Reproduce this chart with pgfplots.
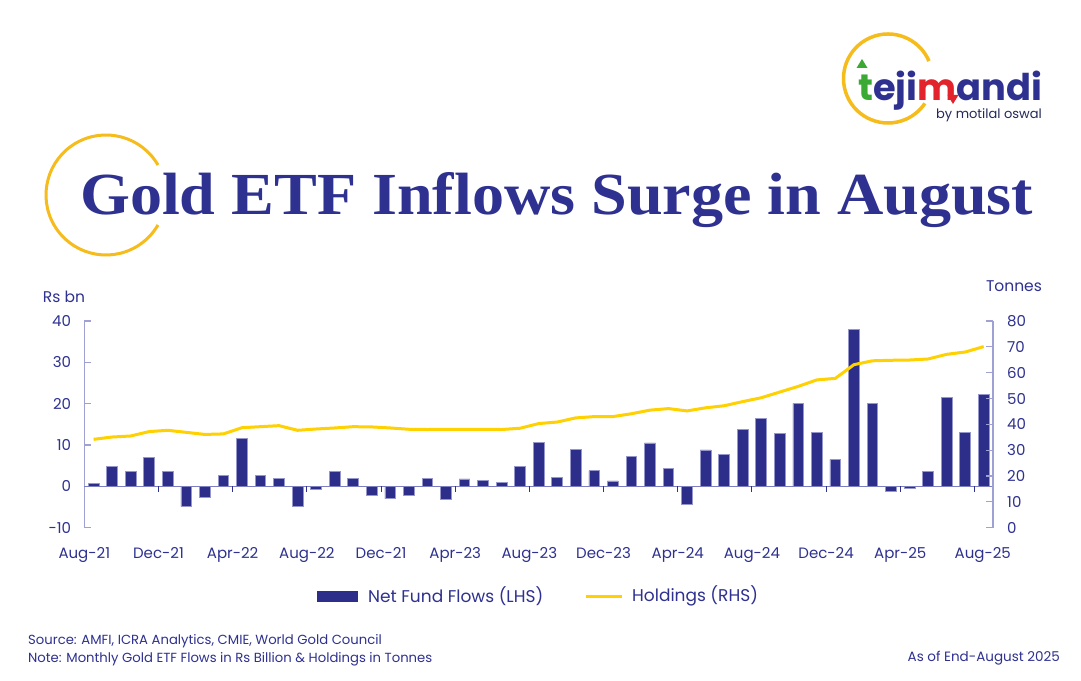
\documentclass[border=0pt]{standalone}
\usepackage{fontspec}
\setmainfont{Poppins}
\newfontfamily\titlefont{Liberation Serif}
\usepackage{graphicx}
\usepackage{pgfplots}
\pgfplotsset{compat=1.18}
\usepackage{pgfplotstable}
\definecolor{navy}{HTML}{2E3190}
\definecolor{barnavy}{HTML}{2C2E8A}
\definecolor{barline}{HTML}{9496CC}
\definecolor{axline}{HTML}{9FA1D2}
\definecolor{zeroline}{HTML}{7C7EC0}
\definecolor{lineyellow}{HTML}{FFD100}
\definecolor{gold}{HTML}{F5BC1C}
\definecolor{tgreen}{HTML}{3BAA35}
\definecolor{tred}{HTML}{E3232B}
\definecolor{darknavy}{HTML}{25285A}

\pgfplotstableread{
x y
0 0.8
1 4.9
2 3.6
3 7.1
4 3.5
5 -4.9
6 -2.7
7 2.6
8 11.6
9 2.6
10 1.9
11 -4.9
12 -0.7
13 3.6
14 1.9
15 -2.3
16 -3.0
17 -2.2
18 1.9
19 -3.1
20 1.8
21 1.5
22 1.05
23 4.8
24 10.7
25 2.2
26 9.0
27 3.8
28 1.3
29 7.2
30 10.5
31 4.3
32 -4.3
33 8.8
34 7.8
35 13.75
36 16.4
37 12.8
38 20.1
39 13.1
40 6.55
41 38.0
42 20.1
43 -1.2
44 -0.6
45 3.6
46 21.4
47 13.1
48 22.2
}\flows

\pgfplotstableread{
x y
0 34.2
1 35.1
2 35.5
3 37.2
4 37.7
5 36.9
6 36.1
7 36.3
8 38.7
9 39.1
10 39.5
11 37.7
12 38.2
13 38.6
14 39.1
15 39.0
16 38.6
17 38.1
18 38.0
19 38.1
20 38.1
21 38.1
22 38.0
23 38.5
24 40.3
25 40.9
26 42.5
27 43.0
28 43.0
29 44.1
30 45.5
31 46.1
32 45.2
33 46.4
34 47.2
35 48.8
36 50.3
37 52.5
38 54.7
39 57.2
40 57.8
41 63.1
42 64.6
43 64.8
44 64.9
45 65.3
46 67.1
47 68.0
48 70.1
}\holdings

\begin{document}
\begin{tikzpicture}
\path[fill=white] (0pt,0pt) rectangle (1081pt,680pt);

% decorative circles
\draw[gold, line width=3pt] (106pt,485pt) ++(30:60pt) arc[start angle=30, end angle=330, radius=60pt];
\draw[gold, line width=3.5pt] (888pt,601.5pt) ++(23:44.5pt) arc[start angle=23, end angle=326, radius=44.5pt];

% logo
\node[anchor=base west, inner sep=0pt, text=navy] at (858pt,579pt)
  {\raisebox{0pt}[\height][0pt]{\resizebox{184pt}{!}{\bfseries\fontsize{40}{40}\selectfont\textcolor{tgreen}{t}eji\textcolor{tred}{m}andi}}};
\fill[tgreen] (862pt,621pt) -- (856.5pt,612pt) -- (867.5pt,612pt) -- cycle;
\fill[tred] (953pt,576pt) -- (947.5pt,585pt) -- (958.5pt,585pt) -- cycle;
\node[anchor=base east, inner sep=0pt, text=darknavy] at (1042pt,561pt)
  {\fontsize{13}{13}\selectfont by motilal oswal};

% title
\node[anchor=base west, inner sep=0pt, text=navy] at (80pt,465pt)
  {\resizebox{953pt}{42pt}{\titlefont\bfseries Gold ETF Inflows Surge in August}};

% axis labels
\node[text=navy, inner sep=0pt] at (64pt,383pt) {\fontsize{15.5}{15.5}\selectfont Rs bn};
\node[text=navy, inner sep=0pt] at (1014pt,394pt) {\fontsize{15.5}{15.5}\selectfont Tonnes};

\begin{axis}[
  at={(84.3pt,152.3pt)}, anchor=south west,
  scale only axis, width=908.7pt, height=206.7pt,
  xmin=-0.5, xmax=48.5, ymin=-10, ymax=40,
  axis y line*=left, axis x line*=bottom,
  x axis line style={draw=none},
  y axis line style={draw=axline, line width=1.2pt},
  xtick={-0.5,3.5,7.5,11.5,15.5,19.5,23.5,27.5,31.5,35.5,39.5,43.5,47.95},
  xticklabels={Aug-21,Dec-21,Apr-22,Aug-22,Dec-21,Apr-23,Aug-23,Dec-23,Apr-24,Aug-24,Dec-24,Apr-25,Aug-25},
  x tick style={draw=none},
  ytick={-10,0,10,20,30,40},
  y tick style={draw=axline, line width=1.2pt},
  tick align=inside, major tick length=7pt,
  /pgf/number format/assume math mode=true,
  ticklabel style={font=\fontsize{15}{15}\selectfont, text=navy},
  xticklabel style={anchor=base, inner sep=0pt, yshift=-31pt},
  yticklabel style={anchor=east, inner sep=0pt, xshift=-13pt},
  clip=false,
]
\addplot[ybar, bar width=0.58, fill=barnavy, draw=barline, line width=0.8pt] table[x=x,y=y] {\flows};
\draw[zeroline, line width=1.3pt] (axis cs:-0.5,0) -- (axis cs:48.5,0);
\pgfplotsinvokeforeach{3.5,7.5,11.5,15.5,19.5,23.5,27.5,31.5,35.5,39.5,43.5,47.5}{
  \draw[navy, line width=1pt] (axis cs:#1,0) -- ++(0pt,-6pt);
}
\end{axis}

\begin{axis}[
  at={(84.3pt,152.3pt)}, anchor=south west,
  scale only axis, width=908.7pt, height=206.7pt,
  xmin=-0.5, xmax=48.5, ymin=0, ymax=80,
  axis y line*=right, axis x line=none,
  y axis line style={draw=axline, line width=1.2pt},
  ytick={0,10,20,30,40,50,60,70,80},
  y tick style={draw=axline, line width=1.2pt},
  tick align=inside, major tick length=7pt,
  /pgf/number format/assume math mode=true,
  yticklabel style={font=\fontsize{15}{15}\selectfont, text=navy, anchor=west, inner sep=0pt, xshift=14pt},
  clip=false,
]
\addplot[lineyellow, line width=3pt, line join=round] table[x=x,y=y] {\holdings};
\end{axis}

% legend
\fill[barnavy] (317pt,78.3pt) rectangle (358pt,89.3pt);
\node[anchor=west, inner sep=0pt, text=navy] at (368pt,84pt) {\fontsize{17}{17}\selectfont Net Fund Flows (LHS)};
\draw[lineyellow, line width=3pt] (586pt,84pt) -- (622pt,84pt);
\node[anchor=west, inner sep=0pt, text=navy] at (632pt,84pt) {\fontsize{17}{17}\selectfont Holdings (RHS)};

% footer
\node[anchor=west, inner sep=0pt, text=navy] at (28pt,39pt) {\fontsize{13.2}{13.2}\selectfont Source: AMFI, ICRA Analytics, CMIE, World Gold Council};
\node[anchor=west, inner sep=0pt, text=navy] at (28pt,20.7pt) {\fontsize{13.2}{13.2}\selectfont Note: Monthly Gold ETF Flows in Rs Billion \& Holdings in Tonnes};
\node[anchor=east, inner sep=0pt, text=navy] at (1060pt,21.7pt) {\fontsize{13.5}{13.5}\selectfont As of End-August 2025};
\end{tikzpicture}
\end{document}
